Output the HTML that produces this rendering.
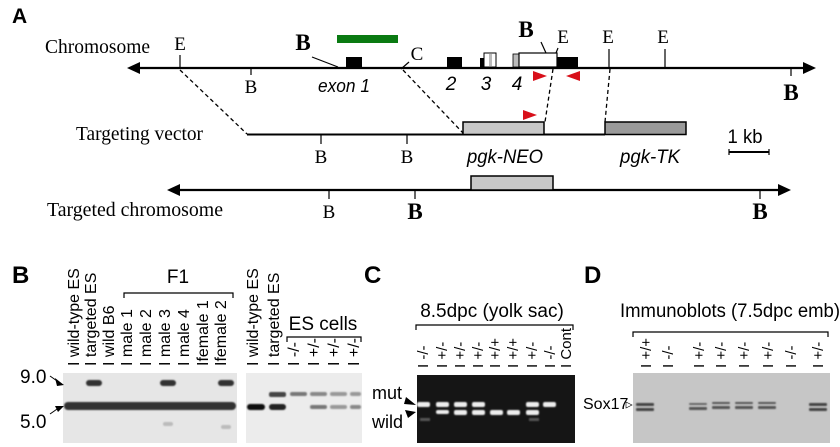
<!DOCTYPE html>
<html><head><meta charset="utf-8"><style>
html,body{margin:0;padding:0;background:#fff;width:840px;height:447px;overflow:hidden}
svg{display:block}
.s{font-family:"Liberation Serif",serif}
.a{font-family:"Liberation Sans",sans-serif}
</style></head><body>
<svg width="840" height="447" viewBox="0 0 840 447" xmlns="http://www.w3.org/2000/svg">
<defs>
<filter id="bl" x="-20%" y="-50%" width="140%" height="200%"><feGaussianBlur stdDeviation="0.8"/></filter>
</defs>
<!-- Panel A -->
<text x="12" y="23" class="a" font-size="21" font-weight="bold">A</text>
<text x="45" y="53" class="s" font-size="20" textLength="105" lengthAdjust="spacingAndGlyphs">Chromosome</text>
<text x="76" y="140" class="s" font-size="20" textLength="127" lengthAdjust="spacingAndGlyphs">Targeting vector</text>
<text x="47" y="216" class="s" font-size="20" textLength="176" lengthAdjust="spacingAndGlyphs">Targeted chromosome</text>
<g stroke="#000" fill="#000">
<line x1="135" y1="68" x2="808" y2="68" stroke-width="2.2"/>
<polygon points="127,68 140,62 140,74" stroke="none"/>
<polygon points="816,68 803,62 803,74" stroke="none"/>
<line x1="175" y1="190" x2="782" y2="190" stroke-width="2.2"/>
<polygon points="167,190 180,184 180,196" stroke="none"/>
<polygon points="791,190 778,184 778,196" stroke="none"/>
<line x1="247" y1="134.5" x2="605" y2="134.5" stroke-width="2"/>
</g>
<rect x="337" y="35" width="61" height="8" fill="#0a7a12"/>
<g stroke="#000" stroke-width="1.2">
<line x1="180" y1="55" x2="180" y2="68"/>
<line x1="251" y1="68" x2="251" y2="75"/>
<line x1="312" y1="57" x2="338" y2="67"/>
<line x1="409" y1="62" x2="401" y2="69"/>
<line x1="541" y1="42" x2="546" y2="53"/>
<line x1="556" y1="53" x2="558" y2="48"/>
<line x1="609" y1="49" x2="609" y2="68"/>
<line x1="665" y1="49" x2="665" y2="68"/>
<line x1="791" y1="68" x2="791" y2="76"/>
<line x1="321" y1="134" x2="321" y2="144"/>
<line x1="407" y1="134" x2="407" y2="144"/>
<line x1="329" y1="190" x2="329" y2="199"/>
<line x1="415" y1="190" x2="415" y2="199"/>
<line x1="760" y1="190" x2="760" y2="199"/>
<line x1="729" y1="152" x2="769" y2="152" stroke-width="2"/>
<line x1="729" y1="149" x2="729" y2="155"/>
<line x1="769" y1="149" x2="769" y2="155"/>
</g>
<rect x="346" y="57" width="16" height="10" fill="#000"/>
<rect x="447" y="57" width="15" height="10" fill="#000"/>
<rect x="480" y="58" width="4" height="9" fill="#000"/>
<rect x="484" y="53" width="12" height="14" fill="#fff" stroke="#000" stroke-width="1"/>
<rect x="489" y="54" width="3" height="12" fill="#bbb"/>
<rect x="513" y="54" width="6" height="13" fill="#bbb" stroke="#000" stroke-width=".8"/>
<rect x="519" y="53" width="38" height="14" fill="#fff" stroke="#000" stroke-width="1.2"/>
<rect x="557" y="57" width="21" height="10" fill="#000"/>
<text x="180" y="50" class="s" font-size="19" text-anchor="middle">E</text>
<text x="251" y="93" class="s" font-size="19" text-anchor="middle">B</text>
<text x="303" y="50" class="s" font-size="23" font-weight="bold" text-anchor="middle">B</text>
<text x="417" y="60" class="s" font-size="19" text-anchor="middle">C</text>
<text x="526" y="37" class="s" font-size="23" font-weight="bold" text-anchor="middle">B</text>
<text x="563" y="43" class="s" font-size="19" text-anchor="middle">E</text>
<text x="608" y="43" class="s" font-size="19" text-anchor="middle">E</text>
<text x="663" y="43" class="s" font-size="19" text-anchor="middle">E</text>
<text x="791" y="100" class="s" font-size="23" font-weight="bold" text-anchor="middle">B</text>
<text x="344" y="92" class="a" font-size="18" font-style="italic" text-anchor="middle" textLength="52" lengthAdjust="spacingAndGlyphs">exon 1</text>
<text x="451" y="90" class="a" font-size="19" font-style="italic" text-anchor="middle">2</text>
<text x="486" y="90" class="a" font-size="19" font-style="italic" text-anchor="middle">3</text>
<text x="517" y="90" class="a" font-size="19" font-style="italic" text-anchor="middle">4</text>
<polygon points="533,71 547,76 533,81" fill="#d8101a"/>
<polygon points="580,71 566,76 580,81" fill="#d8101a"/>
<polygon points="523,110 537,115 523,120" fill="#d8101a"/>
<g stroke="#000" stroke-width="1.3" stroke-dasharray="4,3" fill="none">
<line x1="180" y1="70" x2="247" y2="134"/>
<line x1="403" y1="70" x2="463" y2="133"/>
<line x1="553" y1="69" x2="545" y2="122"/>
<line x1="610" y1="69" x2="605" y2="122"/>
</g>
<rect x="463" y="122" width="81" height="12.5" fill="#c8c8c8" stroke="#000" stroke-width="1.5"/>
<rect x="605" y="122" width="81" height="12.5" fill="#9a9a9a" stroke="#000" stroke-width="1.5"/>
<rect x="471" y="176" width="82" height="14" fill="#c8c8c8" stroke="#000" stroke-width="1.5"/>
<text x="321" y="163" class="s" font-size="19" text-anchor="middle">B</text>
<text x="407" y="163" class="s" font-size="19" text-anchor="middle">B</text>
<text x="505" y="163" class="a" font-size="19" font-style="italic" text-anchor="middle" textLength="76" lengthAdjust="spacingAndGlyphs">pgk-NEO</text>
<text x="650" y="163" class="a" font-size="19" font-style="italic" text-anchor="middle" textLength="60" lengthAdjust="spacingAndGlyphs">pgk-TK</text>
<text x="745" y="143" class="a" font-size="19" text-anchor="middle" textLength="35" lengthAdjust="spacingAndGlyphs">1 kb</text>
<text x="329" y="218" class="s" font-size="19" text-anchor="middle">B</text>
<text x="415" y="219" class="s" font-size="23" font-weight="bold" text-anchor="middle">B</text>
<text x="760" y="219" class="s" font-size="23" font-weight="bold" text-anchor="middle">B</text>

<!-- Panel B -->
<text x="12" y="283" class="a" font-size="24" font-weight="bold">B</text>
<text x="178" y="283" class="a" font-size="19" text-anchor="middle">F1</text>
<path d="M124,298 V293 H233 V298" fill="none" stroke="#000" stroke-width="1.2"/>
<g class="a" font-size="16">
<text transform="translate(79,366) rotate(-90)">I wild-type ES</text>
<text transform="translate(96,366) rotate(-90)">I targeted ES</text>
<text transform="translate(114,366) rotate(-90)">I wild B6</text>
<text transform="translate(132,366) rotate(-90)">I male 1</text>
<text transform="translate(151,366) rotate(-90)">I male 2</text>
<text transform="translate(170,366) rotate(-90)">I male 3</text>
<text transform="translate(189,366) rotate(-90)">I male 4</text>
<text transform="translate(208,366) rotate(-90)">Ifemale 1</text>
<text transform="translate(226,366) rotate(-90)">Ifemale 2</text>
<text transform="translate(258,366) rotate(-90)">I wild-type ES</text>
<text transform="translate(279,366) rotate(-90)">I targeted ES</text>
<text transform="translate(299,366) rotate(-90)">I -/-</text>
<text transform="translate(319,366) rotate(-90)">I +/-</text>
<text transform="translate(339,366) rotate(-90)">I +/-</text>
<text transform="translate(359,366) rotate(-90)">I +/-</text>
</g>
<text x="323" y="330" class="a" font-size="19" text-anchor="middle">ES cells</text>
<path d="M287,342 V337 H361 V342" fill="none" stroke="#000" stroke-width="1.2"/>
<rect x="63" y="373" width="174" height="70" fill="#e6e6e6"/>
<rect x="246" y="373" width="116" height="70" fill="#ececec"/>
<g fill="#333" filter="url(#bl)">
<rect x="64" y="402" width="172" height="8" rx="4"/>
<rect x="86" y="380" width="16" height="6" rx="3"/>
<rect x="160" y="380" width="16" height="6" rx="3"/>
<rect x="218" y="380" width="16" height="6" rx="3"/>
<rect x="247" y="404" width="18" height="6" rx="3" fill="#111"/>
<rect x="269" y="404" width="17" height="6" rx="3" fill="#222"/>
<rect x="269" y="392" width="17" height="5" rx="2" fill="#444"/>
<rect x="290" y="392" width="17" height="4" rx="2" fill="#777"/>
<rect x="310" y="392" width="17" height="4" rx="2" fill="#888"/>
<rect x="330" y="392" width="17" height="4" rx="2" fill="#999"/>
<rect x="350" y="392" width="11" height="4" rx="2" fill="#999"/>
<rect x="310" y="405" width="17" height="4" rx="2" fill="#777"/>
<rect x="330" y="405" width="17" height="4" rx="2" fill="#999"/>
<rect x="350" y="405" width="11" height="4" rx="2" fill="#888"/>
<rect x="163" y="422" width="10" height="4" rx="2" fill="#bbb"/>
<rect x="221" y="425" width="10" height="4" rx="2" fill="#bbb"/>
</g>
<text x="20" y="383" class="a" font-size="19">9.0</text>
<text x="20" y="428" class="a" font-size="19">5.0</text>
<polygon points="64,385 55,378 57,386" fill="#000"/>
<line x1="50" y1="376" x2="60" y2="383" stroke="#000" stroke-width="1"/>
<polygon points="64,406 55,406 58,412" fill="#000"/>
<line x1="50" y1="414" x2="60" y2="407" stroke="#000" stroke-width="1"/>

<!-- Panel C -->
<text x="364" y="283" class="a" font-size="24" font-weight="bold">C</text>
<text x="492" y="317" class="a" font-size="19" text-anchor="middle">8.5dpc (yolk sac)</text>
<path d="M416,330 V325 H573 V330" fill="none" stroke="#000" stroke-width="1.2"/>
<g class="a" font-size="15">
<text transform="translate(428,368) rotate(-90)">I -/-</text>
<text transform="translate(447,368) rotate(-90)">I +/-</text>
<text transform="translate(465,368) rotate(-90)">I +/-</text>
<text transform="translate(483,368) rotate(-90)">I +/-</text>
<text transform="translate(500,368) rotate(-90)">I +/+</text>
<text transform="translate(518,368) rotate(-90)">I +/+</text>
<text transform="translate(537,368) rotate(-90)">I +/-</text>
<text transform="translate(555,368) rotate(-90)">I -/-</text>
<text transform="translate(571,368) rotate(-90)">I Cont</text>
</g>
<rect x="417" y="375" width="158" height="68" fill="#151515"/>
<g fill="#eee" filter="url(#bl)">
<rect x="417" y="402" width="13" height="5" rx="2"/>
<rect x="436" y="402" width="13" height="5" rx="2"/>
<rect x="436" y="410" width="13" height="4" rx="2"/>
<rect x="454" y="402" width="13" height="5" rx="2"/>
<rect x="454" y="410" width="13" height="5" rx="2"/>
<rect x="472" y="402" width="13" height="5" rx="2"/>
<rect x="472" y="410" width="13" height="5" rx="2"/>
<rect x="490" y="410" width="13" height="5" rx="2"/>
<rect x="507" y="410" width="13" height="5" rx="2"/>
<rect x="526" y="402" width="13" height="5" rx="2"/>
<rect x="526" y="410" width="13" height="5" rx="2"/>
<rect x="543" y="402" width="13" height="5" rx="2"/>
<rect x="420" y="418" width="10" height="3" fill="#555"/>
<rect x="529" y="418" width="10" height="3" fill="#555"/>
</g>
<text x="372" y="399" class="a" font-size="18">mut</text>
<text x="372" y="428" class="a" font-size="18">wild</text>
<polygon points="416,405 406,397 404,404" fill="#000"/>
<polygon points="416,412 405,410 408,418" fill="#000"/>

<!-- Panel D -->
<text x="584" y="283" class="a" font-size="24" font-weight="bold">D</text>
<text x="730" y="317" class="a" font-size="19" text-anchor="middle" textLength="220" lengthAdjust="spacingAndGlyphs">Immunoblots (7.5dpc emb)</text>
<path d="M633,337 V332 H828 V337" fill="none" stroke="#000" stroke-width="1.2"/>
<g class="a" font-size="15">
<text transform="translate(651,368) rotate(-90)">I +/+</text>
<text transform="translate(673,368) rotate(-90)">I -/-</text>
<text transform="translate(704,368) rotate(-90)">I +/-</text>
<text transform="translate(726,368) rotate(-90)">I +/-</text>
<text transform="translate(749,368) rotate(-90)">I +/-</text>
<text transform="translate(773,368) rotate(-90)">I +/-</text>
<text transform="translate(796,368) rotate(-90)">I -/-</text>
<text transform="translate(823,368) rotate(-90)">I +/-</text>
</g>
<rect x="633" y="373" width="197" height="70" fill="#c6c6c6"/>
<g fill="#444" filter="url(#bl)">
<rect x="636" y="403" width="18" height="3" rx="1"/>
<rect x="636" y="408" width="18" height="3" rx="1"/>
<rect x="689" y="403" width="18" height="2" rx="1" fill="#666"/>
<rect x="689" y="407" width="18" height="3" rx="1" fill="#555"/>
<rect x="712" y="402" width="18" height="2" rx="1" fill="#555"/>
<rect x="712" y="406" width="18" height="3" rx="1" fill="#555"/>
<rect x="735" y="402" width="18" height="2" rx="1" fill="#555"/>
<rect x="735" y="406" width="18" height="3" rx="1" fill="#555"/>
<rect x="758" y="402" width="18" height="2" rx="1" fill="#555"/>
<rect x="758" y="406" width="18" height="3" rx="1" fill="#555"/>
<rect x="809" y="403" width="18" height="3" rx="1"/>
<rect x="809" y="408" width="18" height="3" rx="1"/>
</g>
<text x="583" y="409" class="a" font-size="16">Sox17</text>
<polygon points="632,405 626,402 626,408" fill="#fff" stroke="#000" stroke-width=".6"/>
</svg>
</body></html>
